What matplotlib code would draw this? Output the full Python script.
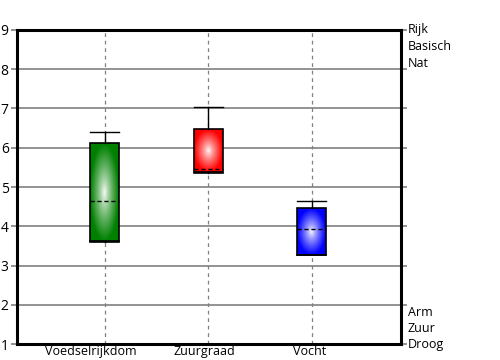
import numpy as np
import matplotlib
matplotlib.use("Agg")
import matplotlib.pyplot as plt
import matplotlib.transforms as mtransforms
from matplotlib.patches import Rectangle
from matplotlib.colors import LinearSegmentedColormap
from matplotlib.ticker import MultipleLocator

categories = ["Voedselrijkdom", "Zuurgraad", "Vocht"]
whisker_low = [3.62, 5.36, 3.27]
box_low = [3.61, 5.39, 3.27]
median = [4.64, 5.45, 3.92]
box_high = [6.12, 6.48, 4.46]
whisker_high = [6.39, 7.03, 4.64]
colors = ["#008000", "#ff0000", "#0000ff"]
right_top = ["Rijk", "Basisch", "Nat"]
right_bottom = ["Arm", "Zuur", "Droog"]
yticks = [1, 2, 3, 4, 5, 6, 7, 8, 9]

plt.rcParams['font.family'] = ['Open Sans', 'DejaVu Sans']
fig = plt.figure(figsize=(5, 3.6), dpi=100)
ax = fig.add_axes([0.034, 0.0444, 0.768, 0.8723])
ax.set_xlim(-0.85, 2.86)
ax.set_ylim(1, 9)

for y in yticks[1:-1]:
    ax.axhline(y, color="#808080", lw=1.2, zorder=1)
for i in range(len(categories)):
    ax.axvline(i, color="#808080", lw=0.9, ls=(0, (3, 3)), zorder=1)

w = 0.28
ny, nx = 100, 60
yy, xx = np.mgrid[-1:1:ny*1j, -1:1:nx*1j]
r = np.clip(np.sqrt(xx**2 + yy**2), 0, 1)
for i, c in enumerate(colors):
    cmap = LinearSegmentedColormap.from_list("g", ["white", c])
    x0, x1 = i - w/2, i + w/2
    ax.plot([i, i], [box_high[i], whisker_high[i]], color="black", lw=1, zorder=3)
    ax.plot([i, i], [whisker_low[i], box_low[i]], color="black", lw=1, zorder=3)
    ax.plot([x0, x1], [whisker_high[i]]*2, color="black", lw=1, zorder=3)
    ax.plot([x0, x1], [whisker_low[i]]*2, color="black", lw=1.2, zorder=3)
    im = ax.imshow(r**0.8, cmap=cmap, vmin=0, vmax=1, extent=[x0, x1, box_low[i], box_high[i]],
                   aspect="auto", zorder=2, interpolation="bilinear")
    rect = Rectangle((x0, box_low[i]), w, box_high[i] - box_low[i], fill=False,
                     ec="black", lw=1.2, zorder=4)
    ax.add_patch(rect)
    im.set_clip_path(rect)
    ax.plot([x0, x1], [median[i]]*2, color="black", lw=1, ls=(0, (3, 2)), zorder=5)

ax.set_xticks(range(len(categories)))
ax.set_xticklabels(categories, fontsize=9)
ax.tick_params(axis="x", length=0, pad=1)
label_shift_px = [-14, -4, -2]
for lab, dx in zip(ax.get_xticklabels(), label_shift_px):
    lab.set_transform(lab.get_transform() +
                      mtransforms.ScaledTranslation(dx / 100, 0, fig.dpi_scale_trans))
ax.set_yticks(yticks)
ax.set_yticklabels([str(v) for v in yticks], fontsize=10)
ax.yaxis.set_minor_locator(MultipleLocator(0.2))
ax.tick_params(axis="y", which="major", length=4, color="#808080", width=1.2, pad=2,
               left=True, right=True, labelright=False)
ax.tick_params(axis="y", which="minor", length=2, color="#606060", width=1,
               direction="inout", left=True, right=True)
for s in ax.spines.values():
    s.set_linewidth(2.2)
    s.set_color("black")

for j, t in enumerate(right_top):
    ax.annotate(t, xy=(1, 1), xycoords="axes fraction", xytext=(5, -12*j),
                textcoords="offset points", fontsize=9, va="center", ha="left")
for j, t in enumerate(right_bottom[::-1]):
    ax.annotate(t, xy=(1, 0), xycoords="axes fraction", xytext=(5, 11.5*j),
                textcoords="offset points", fontsize=9, va="center", ha="left")

fig.savefig("out.png", dpi=100)
